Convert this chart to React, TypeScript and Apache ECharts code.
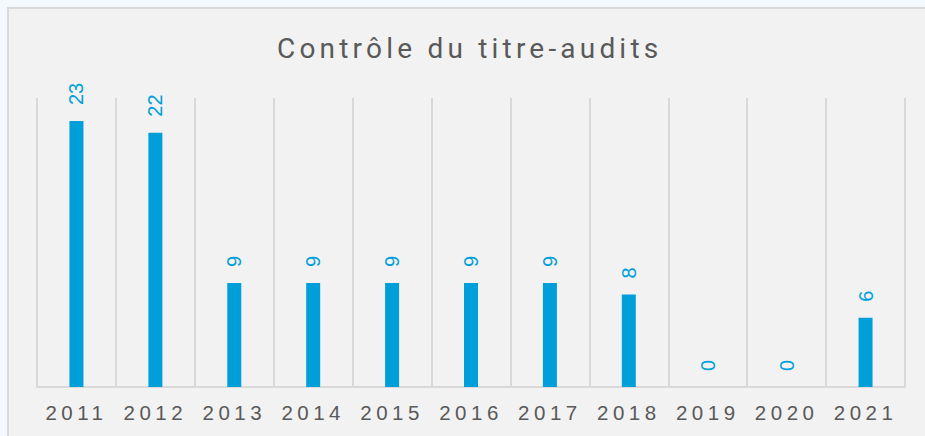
import React, { useEffect, useRef } from "react";
import * as echarts from "echarts";

const categories = ["2011", "2012", "2013", "2014", "2015", "2016", "2017", "2018", "2019", "2020", "2021"];
const audits = [23, 22, 9, 9, 9, 9, 9, 8, 0, 0, 6];
const titleText = "Contrôle du titre-audits";

const BLUE = "#009fd9";
const GRAY_TEXT = "#595959";
const GRID_LINE = "#d9d9d9";

export default function App() {
  const ref = useRef<HTMLDivElement>(null);

  useEffect(() => {
    document.body.style.margin = "0";
    document.body.style.background = "#f3f9fd";
    document.body.style.overflow = "hidden";
    const el = ref.current!;
    const chart = echarts.init(el, undefined, { renderer: "svg" });
    chart.setOption({
      animation: false,
      backgroundColor: "#f2f2f2",
      title: {
        text: titleText,
        left: 263,
        top: 20,
        textStyle: { fontFamily: "Roboto", fontSize: 28, fontWeight: "normal", color: GRAY_TEXT },
      },
      grid: { left: 28, right: 20, top: 89, bottom: 49 },
      xAxis: {
        type: "category",
        data: categories,
        axisLine: { lineStyle: { color: GRID_LINE, width: 2 } },
        axisTick: { show: false },
        splitLine: { show: true, lineStyle: { color: GRID_LINE, width: 2 } },
        axisLabel: { color: GRAY_TEXT, fontFamily: "Liberation Sans", fontSize: 20.5, margin: 15 },
      },
      yAxis: { type: "value", min: 0, max: 25, show: false, splitLine: { show: false } },
      series: [
        {
          type: "bar",
          data: audits,
          barWidth: 14,
          itemStyle: { color: BLUE },
          label: {
            show: true,
            position: "top",
            rotate: 90,
            align: "left",
            verticalAlign: "middle",
            distance: 16,
            color: BLUE,
            fontFamily: "Liberation Sans",
            fontSize: 20,
          },
        },
      ],
    });
    const applySpacing = () => {
      el.querySelectorAll("text").forEach((t) => {
        const s = t.textContent || "";
        if (/^\d{4}$/.test(s)) t.setAttribute("letter-spacing", "4.5px");
        else if (s === titleText) t.setAttribute("letter-spacing", "4.2px");
      });
    };
    applySpacing();
    chart.on("finished", applySpacing);
    const tm = setTimeout(applySpacing, 50);
    return () => {
      clearTimeout(tm);
      chart.dispose();
    };
  }, []);

  return (
    <div
      style={{
        position: "absolute",
        left: 7,
        top: 7,
        borderTop: "2px solid #d9d9d9",
        borderLeft: "2px solid #d9d9d9",
      }}
    >
      <div ref={ref} style={{ width: 916, height: 427 }} />
    </div>
  );
}
